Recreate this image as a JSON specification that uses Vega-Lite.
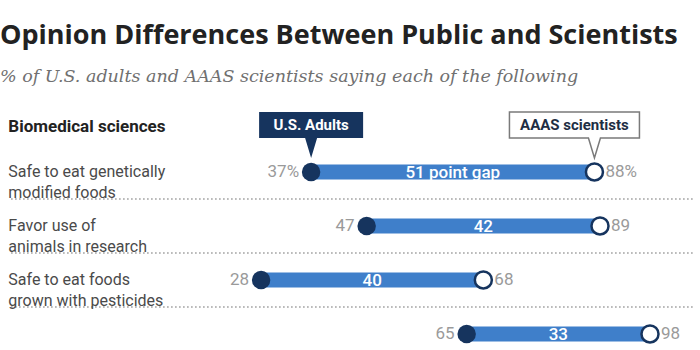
{
  "$schema": "https://vega.github.io/schema/vega-lite/v6.json",
  "width": 700,
  "height": 280,
  "autosize": {"type": "pad"},
  "padding": {"left": 0, "top": 21, "right": 0, "bottom": 0},
  "background": "#ffffff",
  "title": {
    "text": "Opinion Differences Between Public and Scientists",
    "subtitle": "% of U.S. adults and AAAS scientists saying each of the following",
    "anchor": "start",
    "frame": "group",
    "font": "Open Sans",
    "fontSize": 27,
    "fontWeight": "bold",
    "color": "#222222",
    "subtitleFont": "DejaVu Serif",
    "subtitleFontStyle": "italic",
    "subtitleFontSize": 17.5,
    "subtitleColor": "#707070",
    "subtitlePadding": 18,
    "offset": 10
  },
  "config": {"view": {"stroke": null}},
  "data": {
    "values": [
      {"i": 1, "label": "Safe to eat genetically\nmodified foods", "us": 37, "aaas": 88},
      {"i": 2, "label": "Favor use of\nanimals in research", "us": 47, "aaas": 89},
      {"i": 3, "label": "Safe to eat foods\ngrown with pesticides", "us": 28, "aaas": 68},
      {"i": 4, "label": "", "us": 65, "aaas": 98}
    ]
  },
  "transform": [
    {"calculate": "(datum.us + datum.aaas) / 2", "as": "mid"},
    {"calculate": "datum.i == 1 ? (datum.aaas - datum.us) + ' point gap' : '' + (datum.aaas - datum.us)", "as": "gapText"},
    {"calculate": "datum.i == 1 ? datum.us + '%' : '' + datum.us", "as": "usText"},
    {"calculate": "datum.i == 1 ? datum.aaas + '%' : '' + datum.aaas", "as": "aaasText"}
  ],
  "layer": [
    {
      "mark": {"type": "rule", "yOffset": 27, "strokeDash": [1.5, 2.5], "color": "#9a9a9a", "strokeWidth": 1.3},
      "encoding": {
        "y": {"field": "i", "type": "quantitative", "scale": {"domain": [-0.407, 4.778], "reverse": true, "nice": false, "zero": false}, "axis": null},
        "x": {"datum": -17, "type": "quantitative", "scale": {"domain": [-19, 107], "nice": false, "zero": false}, "axis": null},
        "x2": {"datum": 106}
      }
    },
    {
      "mark": {"type": "rule", "strokeWidth": 15, "strokeCap": "round", "color": "#3f7fca"},
      "encoding": {
        "y": {"field": "i", "type": "quantitative"},
        "x": {"field": "us", "type": "quantitative"},
        "x2": {"field": "aaas"}
      }
    },
    {
      "mark": {"type": "point", "filled": true, "size": 340, "color": "#16345e", "opacity": 1},
      "encoding": {
        "y": {"field": "i", "type": "quantitative"},
        "x": {"field": "us", "type": "quantitative"}
      }
    },
    {
      "mark": {"type": "point", "filled": true, "size": 290, "fill": "#ffffff", "stroke": "#16345e", "strokeWidth": 2.5, "opacity": 1},
      "encoding": {
        "y": {"field": "i", "type": "quantitative"},
        "x": {"field": "aaas", "type": "quantitative"}
      }
    },
    {
      "mark": {"type": "text", "color": "#ffffff", "font": "Roboto", "fontSize": 17, "fontWeight": 500, "baseline": "middle", "align": "center", "dy": 1},
      "encoding": {
        "y": {"field": "i", "type": "quantitative"},
        "x": {"field": "mid", "type": "quantitative"},
        "text": {"field": "gapText"}
      }
    },
    {
      "mark": {"type": "text", "color": "#9a9a9a", "font": "Roboto", "fontSize": 17, "baseline": "middle", "align": "right", "dx": -12},
      "encoding": {
        "y": {"field": "i", "type": "quantitative"},
        "x": {"field": "us", "type": "quantitative"},
        "text": {"field": "usText"}
      }
    },
    {
      "mark": {"type": "text", "color": "#9a9a9a", "font": "Roboto", "fontSize": 17, "baseline": "middle", "align": "left", "dx": 11},
      "encoding": {
        "y": {"field": "i", "type": "quantitative"},
        "x": {"field": "aaas", "type": "quantitative"},
        "text": {"field": "aaasText"}
      }
    },
    {
      "mark": {"type": "text", "color": "#4a4a4a", "font": "Roboto", "fontSize": 16, "lineHeight": 21, "lineBreak": "\n", "baseline": "middle", "align": "left"},
      "encoding": {
        "y": {"field": "i", "type": "quantitative"},
        "x": {"datum": -17.5, "type": "quantitative"},
        "text": {"field": "label"}
      }
    },
    {
      "transform": [{"filter": "datum.i == 1"}],
      "mark": {"type": "text", "color": "#222222", "font": "Roboto", "fontSize": 17, "fontWeight": "bold", "baseline": "middle", "align": "left", "yOffset": -45},
      "encoding": {
        "y": {"field": "i", "type": "quantitative"},
        "x": {"datum": -17.5, "type": "quantitative"},
        "text": {"value": "Biomedical sciences"}
      }
    },
    {
      "transform": [{"filter": "datum.i == 1"}],
      "mark": {"type": "point", "filled": true, "size": 10000, "color": "#16345e", "opacity": 1, "shape": "M-1.04,-1.2H1.04V-0.68H0.12L0,-0.28L-0.12,-0.68H-1.04Z"},
      "encoding": {
        "y": {"field": "i", "type": "quantitative"},
        "x": {"field": "us", "type": "quantitative"}
      }
    },
    {
      "transform": [{"filter": "datum.i == 1"}],
      "mark": {"type": "text", "color": "#ffffff", "font": "Roboto", "fontSize": 15, "fontWeight": "bold", "baseline": "middle", "align": "center", "dy": -47},
      "encoding": {
        "y": {"field": "i", "type": "quantitative"},
        "x": {"field": "us", "type": "quantitative"},
        "text": {"value": "U.S. Adults"}
      }
    },
    {
      "transform": [{"filter": "datum.i == 1"}],
      "mark": {"type": "point", "filled": true, "size": 10000, "fill": "#ffffff", "stroke": "#7a7a7a", "strokeWidth": 1.5, "opacity": 1, "shape": "M-1.7,-1.2H0.9V-0.68H0.12L0,-0.28L-0.12,-0.68H-1.7Z"},
      "encoding": {
        "y": {"field": "i", "type": "quantitative"},
        "x": {"field": "aaas", "type": "quantitative"}
      }
    },
    {
      "transform": [{"filter": "datum.i == 1"}],
      "mark": {"type": "text", "color": "#1e2e44", "font": "Roboto", "fontSize": 15, "fontWeight": "bold", "baseline": "middle", "align": "center", "dy": -47, "dx": -20},
      "encoding": {
        "y": {"field": "i", "type": "quantitative"},
        "x": {"field": "aaas", "type": "quantitative"},
        "text": {"value": "AAAS scientists"}
      }
    }
  ]
}
